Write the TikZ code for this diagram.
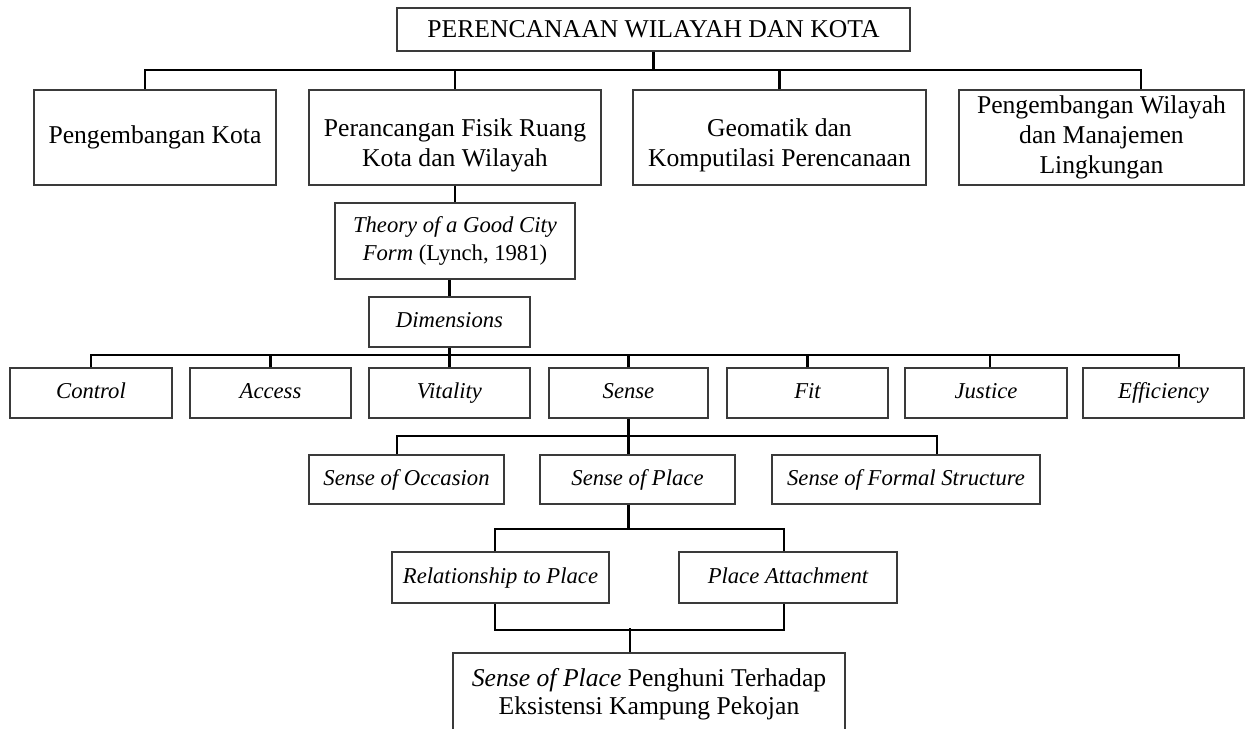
\documentclass[tikz,border=0pt]{standalone}
\usepackage{fontspec}
\setmainfont{Liberation Serif}
\usepackage{tikz}
\usetikzlibrary{positioning}
\definecolor{boxline}{HTML}{3A3A3A}

\newcommand{\lowstrut}{\rule{0pt}{0.68cm}}

\begin{document}
\begin{tikzpicture}[
    x=0.02cm, y=-0.02cm,
    box/.style={draw=boxline, line width=0.7pt, fill=white, inner sep=0pt, align=center},
    bigbox/.style={box, font=\fontsize{14.6pt}{17pt}\selectfont},
    smallbox/.style={box, font=\fontsize{12.9pt}{16pt}\selectfont\itshape, minimum height=1.0cm,
                     text height=0.32cm, text depth=0.1cm},
    link/.style={black, line width=1.15pt}
]

\useasboundingbox (0,0) rectangle (1248,728);

% Top level
\node[bigbox, minimum width=10.26cm, minimum height=0.86cm] (top) at (653.5,29.5) {PERENCANAAN WILAYAH DAN KOTA};

% Fields
\node[bigbox, minimum width=4.84cm, minimum height=1.9cm] (pk) at (155,137.5) {Pengembangan Kota};
\node[bigbox, minimum width=5.84cm, minimum height=1.9cm] (pf) at (455,137.5) {\lowstrut Perancangan Fisik Ruang\\Kota dan Wilayah};
\node[bigbox, minimum width=5.86cm, minimum height=1.9cm] (gk) at (779.5,137.5) {\lowstrut Geomatik dan\\Komputilasi Perencanaan};
\node[bigbox, minimum width=5.7cm, minimum height=1.9cm] (pw) at (1101.5,137.5) {Pengembangan Wilayah\\dan Manajemen\\Lingkungan};

\draw[link] (top.south) -- ++(0,18) coordinate (b1);
\draw[link] ([xshift=-0.2cm]pk.north) |- (b1);
\draw[link] ([xshift=0.79cm]pw.north) |- (b1);
\draw[link] (pf.north) -- (pf.north |- b1);
\draw[link] (gk.north) -- (gk.north |- b1);

% Theory and dimensions
\node[box, font=\fontsize{12.9pt}{16pt}\selectfont, minimum width=4.8cm, minimum height=1.52cm] (theory) at (455,241)
  {\textit{Theory of a Good City}\\\textit{Form} (Lynch, 1981)};
\node[smallbox, minimum width=3.22cm] (dim) at (449.5,322) {Dimensions};

\draw[link] (pf.south) -- (theory.north);
\draw[link] (theory.south -| dim.north) -- (dim.north);

% Performance dimensions
\node[smallbox, minimum width=3.24cm] (control) at (91,393) {Control};
\node[smallbox, minimum width=3.22cm] (access) at (270.5,393) {Access};
\node[smallbox, minimum width=3.22cm] (vitality) at (449.5,393) {Vitality};
\node[smallbox, minimum width=3.18cm] (sense) at (628.5,393) {Sense};
\node[smallbox, minimum width=3.22cm] (fit) at (807.5,393) {Fit};
\node[smallbox, minimum width=3.24cm] (justice) at (986,393) {Justice};
\node[smallbox, minimum width=3.22cm] (efficiency) at (1163.5,393) {Efficiency};

\draw[link] (dim.south) -- ++(0,7) coordinate (b3);
\draw[link] (control.north) |- (b3);
\draw[link] ([xshift=0.31cm]efficiency.north) |- (b3);
\foreach \n in {access,vitality,sense,fit}
  \draw[link] (\n.north) -- (\n.north |- b3);
\coordinate (js) at ([xshift=0.08cm]justice.north);
\draw[link] (js) -- (js |- b3);

% Sense
\node[smallbox, minimum width=3.9cm, minimum height=0.98cm] (occasion) at (406.5,479.5) {Sense of Occasion};
\node[smallbox, minimum width=3.9cm, minimum height=0.98cm] (place) at (637.5,479.5) {Sense of Place};
\node[smallbox, minimum width=5.36cm, minimum height=0.98cm] (formal) at (906,479.5) {Sense of Formal Structure};

\draw[link] (sense.south) -- ++(0,17) coordinate (b4);
\draw[link] ([xshift=-0.19cm]occasion.north) |- (b4);
\draw[link] ([xshift=0.62cm]formal.north) |- (b4);
\draw[link] (b4) -- (b4 |- place.north);

% Sense of place
\node[smallbox, minimum width=4.34cm, minimum height=1.02cm] (relation) at (500.5,577.5) {Relationship to Place};
\node[smallbox, minimum width=4.36cm, minimum height=1.02cm] (attach) at (788,577.5) {Place Attachment};

\draw[link] (b4 |- place.south) -- ++(0,24) coordinate (b5);
\draw[link] ([xshift=-0.11cm]relation.north) |- (b5);
\draw[link] ([xshift=-0.08cm]attach.north) |- (b5);

% Result (runs past the lower edge)
\node[bigbox, font=\fontsize{14.6pt}{16pt}\selectfont, minimum width=7.84cm, minimum height=1.64cm] (final) at (649,694)
  {\textit{Sense of Place} Penghuni Terhadap\\Eksistensi Kampung Pekojan};

\draw[link] ([xshift=-0.11cm]relation.south) -- ++(0,26) -| ([xshift=-0.08cm]attach.south);
\draw[link] ([xshift=-0.38cm]final.north) -- ++(0,-24);

\end{tikzpicture}
\end{document}
